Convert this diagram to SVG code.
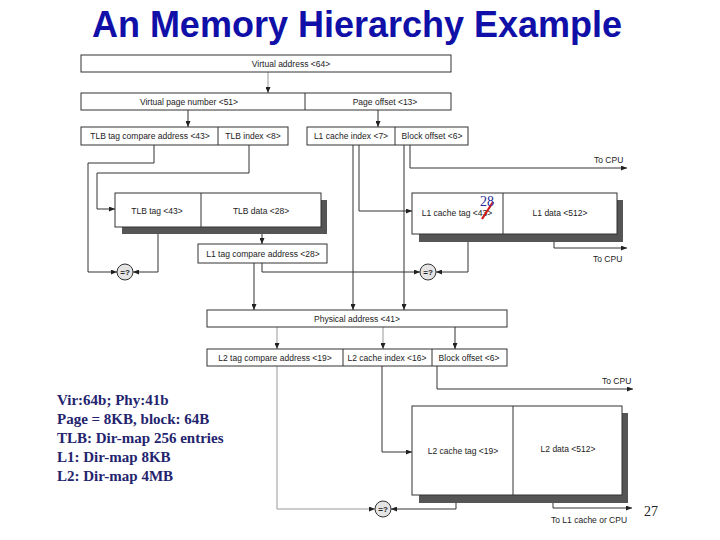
<svg xmlns="http://www.w3.org/2000/svg" width="720" height="540" viewBox="0 0 720 540">
<style>
.bx{fill:#fff;stroke:#333;stroke-width:1}
.sh{fill:#555}
.t{font-family:"Liberation Sans",Arial,sans-serif;font-size:8.5px;fill:#222;text-anchor:middle}
.lbl{font-family:"Liberation Sans",Arial,sans-serif;font-size:8.5px;fill:#222}
.c{fill:none;stroke:#333;stroke-width:1}
.cl{fill:none;stroke:#999;stroke-width:1}
.cmp{fill:#e4e4e4;stroke:#333;stroke-width:1}
.ct{font-family:"Liberation Sans",Arial,sans-serif;font-size:8px;font-weight:bold;fill:#222;text-anchor:middle}
.note{font-family:"Liberation Serif","Times New Roman",serif;font-size:15px;font-weight:bold;fill:#24246e}
</style>
<defs>
<marker id="ah" markerWidth="6" markerHeight="5" refX="6" refY="2.5" orient="auto" markerUnits="userSpaceOnUse">
<path d="M0,0 L6,2.5 L0,5 Z" fill="#222"/>
</marker>
</defs>
<rect width="720" height="540" fill="#fff"/>
<text x="357" y="37" font-family="'Liberation Sans',Arial,sans-serif" font-size="36" font-weight="bold" fill="#1010a8" text-anchor="middle">An Memory Hierarchy Example</text>

<g id="connectors">
<path class="cl" d="M268,72 V93" marker-end="url(#ah)"/>
<path class="c" d="M188,110 V127" marker-end="url(#ah)"/>
<path class="c" d="M378,110 V127" marker-end="url(#ah)"/>
<path class="c" d="M154,145 V163 H88 V272 H117" marker-end="url(#ah)"/>
<path class="c" d="M249,145 V173 H97 V209 H115" marker-end="url(#ah)"/>
<path class="c" d="M158,227 V272 H133" marker-end="url(#ah)"/>
<path class="c" d="M262,227 V244" marker-end="url(#ah)"/>
<path class="c" d="M254,263 V310" marker-end="url(#ah)"/>
<path class="c" d="M262,263 V272 H420" marker-end="url(#ah)"/>
<path class="c" d="M359,145 V211 H412" marker-end="url(#ah)"/>
<path class="c" d="M353,145 V310" marker-end="url(#ah)"/>
<path class="c" d="M410,145 V168 H627" marker-end="url(#ah)"/>
<path class="c" d="M404,145 V310" marker-end="url(#ah)"/>
<path class="c" d="M468,234 V272 H436" marker-end="url(#ah)"/>
<path class="c" d="M554,234 V248 H627" marker-end="url(#ah)"/>
<path class="cl" d="M277,327 V349" marker-end="url(#ah)"/>
<path class="cl" d="M383,327 V349" marker-end="url(#ah)"/>
<path class="c" d="M455,327 V349" marker-end="url(#ah)"/>
<path class="cl" d="M277,366 V509 H375" marker-end="url(#ah)"/>
<path class="c" d="M382,366 V452 H412" marker-end="url(#ah)"/>
<path class="c" d="M437,366 V389 H633" marker-end="url(#ah)"/>
<path class="c" d="M456,495 V509 H391" marker-end="url(#ah)"/>
<path class="c" d="M553,495 V508 H632" marker-end="url(#ah)"/>
</g>

<g id="virtual-address">
<rect class="bx" x="81" y="55" width="370" height="17"/>
<text class="t" x="291" y="67">Virtual address &lt;64&gt;</text>
</g>
<g id="vpn-row">
<rect class="bx" x="81" y="93" width="370" height="17"/>
<line class="c" x1="305" y1="93" x2="305" y2="110"/>
<text class="t" x="189" y="105">Virtual page number &lt;51&gt;</text>
<text class="t" x="385" y="105">Page offset  &lt;13&gt;</text>
</g>
<g id="tlb-addr-row">
<rect class="bx" x="81" y="127" width="207" height="18"/>
<line class="c" x1="218" y1="127" x2="218" y2="145"/>
<text class="t" x="150" y="139">TLB tag compare address &lt;43&gt;</text>
<text class="t" x="253" y="139">TLB index &lt;8&gt;</text>
</g>
<g id="l1-addr-row">
<rect class="bx" x="307" y="127" width="161" height="18"/>
<line class="c" x1="395" y1="127" x2="395" y2="145"/>
<text class="t" x="351" y="139">L1 cache index &lt;7&gt;</text>
<text class="t" x="432" y="139">Block offset  &lt;6&gt;</text>
</g>
<g id="tlb">
<rect class="sh" x="122" y="200" width="205" height="34"/>
<rect class="bx" x="115" y="193" width="206" height="34"/>
<line class="c" x1="201" y1="193" x2="201" y2="227"/>
<text class="t" x="157" y="214">TLB tag &lt;43&gt;</text>
<text class="t" x="261" y="214">TLB data &lt;28&gt;</text>
</g>
<g id="l1-tag-compare">
<rect class="bx" x="198" y="244" width="129" height="19"/>
<text class="t" x="263" y="257">L1 tag compare address &lt;28&gt;</text>
</g>
<g id="l1-cache">
<rect class="sh" x="419" y="200" width="204" height="42"/>
<rect class="bx" x="412" y="193" width="205" height="41"/>
<line class="c" x1="503" y1="193" x2="503" y2="234"/>
<text class="t" x="457" y="216">L1 cache tag &lt;43&gt;</text>
<text class="t" x="560" y="216">L1 data &lt;512&gt;</text>
<line x1="482" y1="219" x2="493" y2="202" stroke="#d01818" stroke-width="2.2"/>
<text x="487" y="206" font-family="'Liberation Serif','Times New Roman',serif" font-size="14" fill="#2a2a9a" text-anchor="middle">28</text>
</g>
<g id="cmp-tlb">
<circle class="cmp" cx="125" cy="272" r="8"/>
<text class="ct" x="125" y="275">=?</text>
</g>
<g id="cmp-l1">
<circle class="cmp" cx="428" cy="272" r="8"/>
<text class="ct" x="428" y="275">=?</text>
</g>
<g id="physical-address">
<rect class="bx" x="207" y="310" width="300" height="17"/>
<text class="t" x="357" y="322">Physical address &lt;41&gt;</text>
</g>
<g id="l2-addr-row">
<rect class="bx" x="207" y="349" width="300" height="17"/>
<line class="c" x1="343" y1="349" x2="343" y2="366"/>
<line class="c" x1="432" y1="349" x2="432" y2="366"/>
<text class="t" x="275" y="361">L2 tag compare address &lt;19&gt;</text>
<text class="t" x="387" y="361">L2 cache index &lt;16&gt;</text>
<text class="t" x="469" y="361">Block offset  &lt;6&gt;</text>
</g>
<g id="l2-cache">
<rect class="sh" x="419" y="413" width="209" height="90"/>
<rect class="bx" x="412" y="406" width="210" height="89"/>
<line class="c" x1="513" y1="406" x2="513" y2="495"/>
<text class="t" x="463" y="454">L2 cache tag &lt;19&gt;</text>
<text class="t" x="568" y="452">L2 data &lt;512&gt;</text>
</g>
<g id="cmp-l2">
<circle class="cmp" cx="383" cy="509" r="8"/>
<text class="ct" x="383" y="512">=?</text>
</g>
<g id="labels">
<text class="lbl" x="594" y="163">To CPU</text>
<text class="lbl" x="593" y="262">To CPU</text>
<text class="lbl" x="602" y="384">To CPU</text>
<text class="lbl" x="551" y="523">To L1 cache or CPU</text>
</g>
<g id="notes">
<text class="note" x="57" y="405">Vir:64b; Phy:41b</text>
<text class="note" x="57" y="424">Page = 8KB, block: 64B</text>
<text class="note" x="57" y="443">TLB: Dir-map 256 entries</text>
<text class="note" x="57" y="462">L1: Dir-map 8KB</text>
<text class="note" x="57" y="481">L2: Dir-map 4MB</text>
</g>
<text x="644" y="516" font-family="'Liberation Serif','Times New Roman',serif" font-size="14" fill="#222">27</text>
</svg>
